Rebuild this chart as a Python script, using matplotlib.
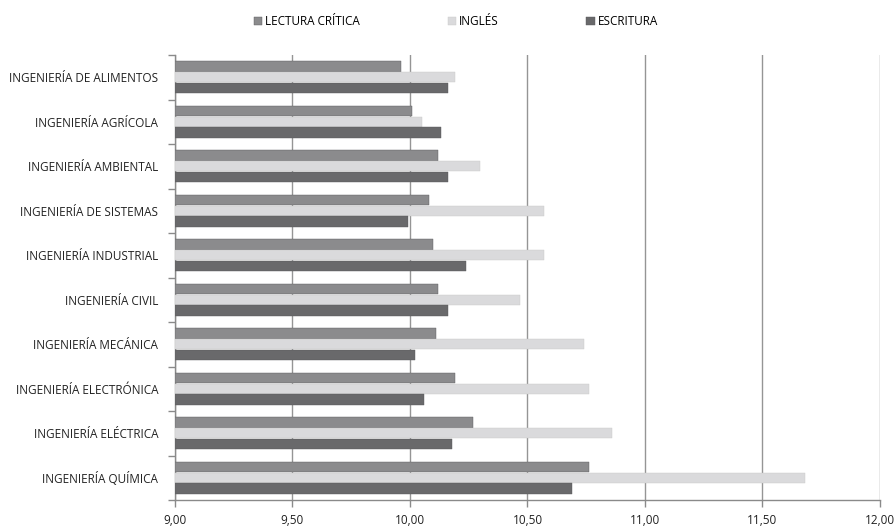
import numpy as np
import matplotlib.pyplot as plt
from matplotlib.ticker import FuncFormatter, FixedLocator

plt.rcParams['font.family'] = ['Open Sans', 'DejaVu Sans']

# Data (top to bottom)
carreras = [
    "INGENIERÍA DE ALIMENTOS",
    "INGENIERÍA AGRÍCOLA",
    "INGENIERÍA AMBIENTAL",
    "INGENIERÍA DE SISTEMAS",
    "INGENIERÍA INDUSTRIAL",
    "INGENIERÍA CIVIL",
    "INGENIERÍA MECÁNICA",
    "INGENIERÍA ELECTRÓNICA",
    "INGENIERÍA ELÉCTRICA",
    "INGENIERÍA QUÍMICA",
]
lectura = [9.96, 10.01, 10.12, 10.08, 10.10, 10.12, 10.11, 10.19, 10.27, 10.76]
ingles = [10.19, 10.05, 10.30, 10.57, 10.57, 10.47, 10.74, 10.76, 10.86, 11.68]
escritura = [10.16, 10.13, 10.16, 9.99, 10.24, 10.16, 10.02, 10.06, 10.18, 10.69]
series_names = ["LECTURA CRÍTICA", "INGLÉS", "ESCRITURA"]
colors = ["#8b8b8d", "#dadadc", "#69696b"]

fig = plt.figure(figsize=(8.96, 5.26), dpi=100)
ax = fig.add_axes([0.1953, 0.0494, 0.7868, 0.846])

y = np.arange(len(carreras))
h = 0.24
base = 9.0
for i, (vals, name, c) in enumerate(zip([lectura, ingles, escritura], series_names, colors)):
    vals = np.array(vals)
    ax.barh(y + (i - 1) * h, vals - base, left=base, height=h * 0.97, color=c,
            label=name, zorder=3, edgecolor="#c8c8c8" if i == 1 else "#5a5a5c", linewidth=0.3)

ax.set_xlim(9.0, 12.0)
ax.set_ylim(len(carreras) - 0.5, -0.5)
ax.set_xticks(np.arange(9.0, 12.01, 0.5))
ax.xaxis.set_major_formatter(FuncFormatter(lambda v, p: f"{v:.2f}".replace(".", ",")))
ax.grid(axis="x", color="#959595", linewidth=1.0, zorder=0)

ax.set_yticks(y)
ax.set_yticklabels(carreras)
ax.yaxis.set_minor_locator(FixedLocator(np.arange(-0.5, len(carreras), 1.0)))
ax.tick_params(axis="y", which="major", length=0, pad=12, labelsize=8.5, colors="#222222")
ax.tick_params(axis="y", which="minor", length=5, color="#8a8a8a", width=1)
ax.tick_params(axis="x", length=5, color="#8a8a8a", width=1, labelsize=8.5,
               labelcolor="#222222", pad=5)

for side in ["top", "right"]:
    ax.spines[side].set_visible(False)
for side in ["left", "bottom"]:
    ax.spines[side].set_color("#8a8a8a")
    ax.spines[side].set_linewidth(1.0)

fig.legend(loc="upper center", bbox_to_anchor=(0.509, 0.992), ncol=3, frameon=False,
           fontsize=8.5, handlelength=0.7, handleheight=0.7, handletextpad=0.3,
           columnspacing=7.4)

fig.savefig("out.png", dpi=100)
